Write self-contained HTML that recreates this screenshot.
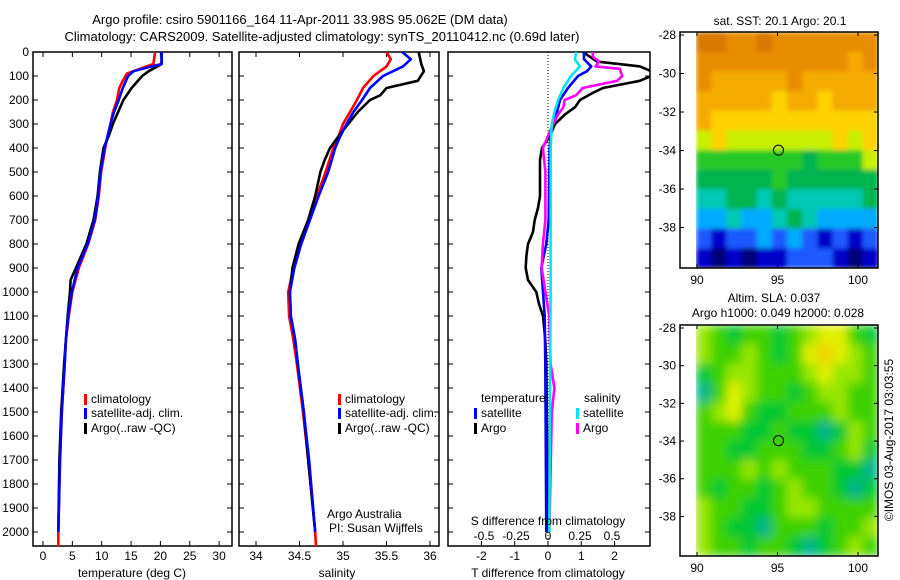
<!DOCTYPE html>
<html><head><meta charset="utf-8"><style>
html,body{margin:0;padding:0;background:#fff;}
svg{display:block;font-family:"Liberation Sans",sans-serif;}
text{font-size:12px;fill:#000;}
</style></head><body>
<svg id="fig" width="900" height="580" viewBox="0 0 900 580" xmlns="http://www.w3.org/2000/svg">
<text x="300" y="24" text-anchor="middle" style="font-size:13px">Argo profile: csiro 5901166_164 11-Apr-2011 33.98S 95.062E (DM data)</text>
<text x="322" y="41" text-anchor="middle" style="font-size:13px">Climatology: CARS2009. Satellite-adjusted climatology: synTS_20110412.nc (0.69d later)</text>
<g id="g"></g>
</svg>
<script>
// ---------- data ----------
const depthTicks = [0,100,200,300,400,500,600,700,800,900,1000,1100,1200,1300,1400,1500,1600,1700,1800,1900,2000];
const tempTicks = [0,5,10,15,20,25,30];
const salTicks = [34,34.5,35,35.5,36];
const salTickLabels = ["34","34.5","35","35.5","36"];
const tdTicks = [-2,-1,0,1,2];
const sdTicks = [-0.5,-0.25,0,0.25,0.5];
const sdTickLabels = ["-0.5","-0.25","0","0.25","0.5"];

const tClimDepth = [0,50,70,90,120,150,200,250,300,350,400,500,600,700,800,900,1000,1100,1200,1300,1500,1700,2000,2060];
const tClim = [19.1,18.8,16.5,14.3,13.6,13.0,12.6,11.9,11.5,11.0,10.6,9.9,9.5,8.9,7.7,6.1,5.0,4.4,3.9,3.7,3.2,2.9,2.6,2.6];
const tSatDepth = [0,50,65,80,100,150,200,250,300,350,400,500,600,700,800,900,1000,1100,1200,1300,1500,1700,2000];
const tSat = [20.2,20.2,17.7,15.4,14.5,13.6,12.9,12.1,11.5,11.0,10.5,9.8,9.4,8.8,7.6,5.9,4.9,4.3,3.9,3.7,3.2,2.9,2.6];
const tArgoDepth = [0,50,60,80,100,150,200,250,300,350,400,500,600,700,800,900,950,1000,1100,1200,1300,1500,1700,2000];
const tArgo = [20.2,20.2,19.5,18.0,16.9,15.1,13.7,12.8,11.9,11.2,10.3,9.7,9.3,8.6,7.4,5.6,4.7,4.6,4.2,3.9,3.6,3.1,2.8,2.6];

const sClimDepth = [0,30,60,100,150,200,250,300,350,400,500,600,700,800,900,1000,1100,1200,1300,1500,1700,2000,2060];
const sClim = [35.5,35.55,35.5,35.35,35.23,35.16,35.08,35.0,34.95,34.89,34.8,34.7,34.6,34.5,34.43,34.37,34.38,34.43,34.47,34.54,34.6,34.68,34.69];
const sSatDepth = [0,30,60,100,150,200,250,300,350,400,500,600,700,800,900,1000,1100,1200,1300,1500,1700,2000];
const sSat = [35.68,35.78,35.69,35.46,35.31,35.22,35.12,35.04,34.97,34.91,34.83,34.72,34.62,34.52,34.44,34.39,34.4,34.45,34.48,34.55,34.61,34.68];
const sArgoDepth = [0,50,80,120,150,180,200,250,300,350,400,450,500,600,700,800,900,1000,1100,1200,1300,1500,1700,2000];
const sArgo = [35.87,35.9,35.93,35.86,35.5,35.43,35.31,35.17,35.06,34.95,34.85,34.79,34.74,34.68,34.6,34.49,34.42,34.39,34.4,34.45,34.48,34.55,34.6,34.68];

const dTDepth = [0,40,60,80,100,120,150,170,200,230,260,300,350,400,450,500,600,650,700,750,800,850,900,950,1000,1050,1100,1200,1300,1600,2000];
const dTArgo = [1.05,1.47,2.76,3.1,3.1,2.76,1.65,1.35,0.96,0.81,0.51,0.21,0.06,-0.18,-0.24,-0.24,-0.24,-0.3,-0.4,-0.45,-0.6,-0.65,-0.67,-0.6,-0.35,-0.27,-0.15,-0.08,-0.05,-0.03,-0.02];
const dTSatDepth = [0,30,60,80,100,150,200,250,300,350,400,700,800,900,1000,1100,1300,2000];
const dTSat = [1.08,1.08,1.3,1.17,0.9,0.6,0.36,0.27,0.15,0.08,0.05,0.02,-0.05,-0.2,-0.15,-0.1,-0.08,-0.05];
const dSDepth = [0,20,40,60,70,100,120,150,180,200,230,260,300,350,400,500,700,800,900,1000,1100,1300,1400,1500,2000];
const dSArgo = [0.35,0.35,0.4,0.37,0.56,0.58,0.54,0.27,0.22,0.13,0.12,0.08,0.04,0,-0.04,-0.02,-0.02,-0.04,-0.05,-0.02,0.01,0.02,0.05,0.03,0.01];
const dSSatDepth = [0,30,60,100,150,200,250,300,400,600,1000,2000];
const dSSat = [0.22,0.21,0.25,0.18,0.12,0.08,0.05,0.03,0.02,0.02,0.02,0.01];

const sstGrid = [
[11,11,10,10,11,10,10,10,10,10,10,10],
[10,10,10,10,10,10,10,10,10,10,9,10],
[10,9,9,9,9,9,10,9,9,9,9,9],
[9,9,9,9,9,8,9,9,8,9,9,9],
[9,8,8,8,8,8,8,8,8,8,8,8],
[7,8,7,7,7,7,7,7,7,8,7,8],
[6,6,6,6,6,6,6,5,6,6,6,7],
[5,5,5,5,5,6,5,5,5,5,5,5],
[4,4,5,5,4,5,4,4,4,4,4,5],
[3,3,4,3,3,4,5,4,3,3,3,3],
[2,1,2,2,3,2,3,2,1,2,1,2],
[1,0,1,0,1,1,2,2,2,1,0,1]];
const slaGrid = [
[3,2,1,2,2,1,2,3,4,4,2,1],
[3,2,2,3,2,1,2,4,5,4,3,2],
[1,2,3,3,2,2,2,3,4,3,3,2],
[0,2,4,3,2,2,1,2,3,3,2,2],
[2,3,4,2,1,1,2,2,2,3,2,2],
[2,2,2,1,1,2,1,1,0,1,3,2],
[2,2,1,1,2,2,2,1,1,2,3,1],
[2,2,2,3,2,3,2,2,2,1,1,0],
[2,1,2,2,1,2,3,2,2,1,0,1],
[3,2,2,1,1,2,3,3,2,2,2,2],
[3,2,1,1,0,2,2,2,1,2,2,3],
[3,2,2,1,2,2,1,0,1,2,3,2]];
const latTicks = [-28,-30,-32,-34,-36,-38];
const lonTicks = [90,95,100];
const argoLon = 95.062, argoLat = -33.98;

// ---------- helpers ----------
const NS="http://www.w3.org/2000/svg";
const G=document.getElementById('g');
function el(tag,attrs,parent,txt){const e=document.createElementNS(NS,tag);for(const k in attrs)e.setAttribute(k,attrs[k]);if(txt!==undefined)e.textContent=txt;(parent||G).appendChild(e);return e;}
const yD = d => 52 + d*0.24;
const Y_TOP=52, Y_BOT=546;
const xT = t => 43 + t*5.87;
const xS = s => 256 + (s-34)*87;
const xDT = t => 548 + t*33.3;
const xDS = s => 548 + s*128;

function frame(x0,x1,name){
  const r=el('rect',{x:x0,y:Y_TOP,width:x1-x0,height:Y_BOT-Y_TOP,fill:'none',stroke:'#000','stroke-width':1.5});
  
  
  depthTicks.forEach(d=>{
    el('line',{x1:x0,x2:x0+5,y1:yD(d),y2:yD(d),stroke:'#000'});
    el('line',{x1:x1,x2:x1-5,y1:yD(d),y2:yD(d),stroke:'#000'});
  });
}
function clipFor(id,x0,x1){const cp=el('clipPath',{id:id});el('rect',{x:x0,y:Y_TOP,width:x1-x0,height:Y_BOT-Y_TOP},cp);}
function line(xs,ds,fx,color,w,name,clip){
  const pts=xs.map((v,i)=>fx(v).toFixed(1)+','+yD(ds[i]).toFixed(1)).join(' ');
  const p=el('polyline',{points:pts,fill:'none',stroke:color,'stroke-width':w,'stroke-linejoin':'round','clip-path':'url(#'+clip+')'});
  
  
}
function xticks(vals,labels,fx,x0,x1,ly,name){
  vals.forEach((v,i)=>{
    const x=fx(v);
    el('line',{x1:x,x2:x,y1:Y_BOT,y2:Y_BOT-5,stroke:'#000'});
    el('line',{x1:x,x2:x,y1:Y_TOP,y2:Y_TOP+5,stroke:'#000'});
    const t=el('text',{x:x,y:ly,'text-anchor':'middle'},null,labels[i]);
    
    
  });
}
function legendEntry(x,y,color,label,name){
  el('rect',{x:x,y:y-9,width:3,height:11,fill:color});
  const t=el('text',{x:x+7,y:y},null,label);
  
  
}

// ---------- panel 1: temperature ----------
clipFor('c1',33,232);
frame(33,232,'temperature-panel');
depthTicks.forEach(d=>{const t=el('text',{x:29,y:yD(d)+4,'text-anchor':'end'},null,String(d));
  
  });
xticks(tempTicks,tempTicks.map(String),xT,33,232,560,'temperature');
line(tClim,tClimDepth,xT,'#ff0000',2.6,'temp-climatology-line','c1');
line(tArgo,tArgoDepth,xT,'#000000',2.6,'temp-argo-line','c1');
line(tSat,tSatDepth,xT,'#0000ff',2.6,'temp-satellite-line','c1');
{const t=el('text',{x:132,y:577,'text-anchor':'middle'},null,'temperature (deg C)');}
legendEntry(84,403,'#ff0000','climatology','legend-entry-climatology');
legendEntry(84,417,'#0000ff','satellite-adj. clim.','legend-entry-satellite');
legendEntry(84,432,'#000000','Argo(..raw -QC)','legend-entry-argo');

// ---------- panel 2: salinity ----------
clipFor('c2',239,439);
frame(239,439,'salinity-panel');
xticks(salTicks,salTickLabels,xS,239,439,560,'salinity');
line(sClim,sClimDepth,xS,'#ff0000',2.6,'sal-climatology-line','c2');
line(sArgo,sArgoDepth,xS,'#000000',2.6,'sal-argo-line','c2');
line(sSat,sSatDepth,xS,'#0000ff',2.6,'sal-satellite-line','c2');
{const t=el('text',{x:337,y:577,'text-anchor':'middle'},null,'salinity');}
legendEntry(338,403,'#ff0000','climatology','legend2-entry-climatology');
legendEntry(338,417,'#0000ff','satellite-adj. clim.','legend2-entry-satellite');
legendEntry(338,432,'#000000','Argo(..raw -QC)','legend2-entry-argo');
{const t=el('text',{x:327,y:518},null,'Argo Australia');}
{const t=el('text',{x:329,y:532},null,'PI: Susan Wijffels');}

// ---------- panel 3: differences ----------
clipFor('c3',448,650);
frame(448,650,'difference-panel');
el('line',{x1:xDT(0),x2:xDT(0),y1:Y_TOP,y2:Y_BOT,stroke:'#000','stroke-dasharray':'1,2'});
tdTicks.forEach(v=>{const x=xDT(v);el('line',{x1:x,x2:x,y1:Y_BOT,y2:Y_BOT-5,stroke:'#000'});
  const t=el('text',{x:x,y:560,'text-anchor':'middle'},null,String(v));});
sdTicks.forEach((v,i)=>{const t=el('text',{x:xDS(v),y:540,'text-anchor':'middle'},null,sdTickLabels[i]);});
line(dTArgo,dTDepth,xDT,'#000000',2.6,'t-diff-argo-line','c3');
line(dTSat,dTSatDepth,xDT,'#0000ff',2.6,'t-diff-satellite-line','c3');
line(dSArgo,dSDepth,xDS,'#ff00ff',2.6,'s-diff-argo-line','c3');
line(dSSat,dSSatDepth,xDS,'#00e5ee',2.6,'s-diff-satellite-line','c3');
{const t=el('text',{x:548,y:525,'text-anchor':'middle'},null,'S difference from climatology');}
{const t=el('text',{x:548,y:577,'text-anchor':'middle'},null,'T difference from climatology');}
{const t=el('text',{x:481,y:402},null,'temperature');}
{const t=el('text',{x:584,y:402},null,'salinity');}
legendEntry(474,417,'#0000ff','satellite','legend3-temp-satellite');
legendEntry(474,432,'#000000','Argo','legend3-temp-argo');
legendEntry(576,417,'#00e5ee','satellite','legend3-sal-satellite');
legendEntry(576,432,'#ff00ff','Argo','legend3-sal-argo');

// ---------- maps ----------
const sstColors=['#00007a','#0000c8','#1e5aff','#00aaff','#00c8b4','#00b450','#28c828','#c8f000','#ffd200','#f5aa00','#e88c00','#d87800'];
const slaColors=['#00b48c','#00c832','#3cd200','#96e600','#e0f000','#f0d200'];
function map(top,bot,grid,colors,name,blur){
  const L=680,R=878,DL=696;
  const lonX=lon=>697+(lon-90)*16.1;
  const latY=lat=>top+3+(-28-lat)*((bot-top-3)/12.1);
  const cid='m'+name;
  const cp=el('clipPath',{id:cid});el('rect',{x:DL,y:top,width:R-DL,height:bot-top},cp);
  const g=el('g',{'clip-path':'url(#'+cid+')'});
  const gi=el('g',{filter:'url(#'+blur+')'},g);
  const rows=grid.length, cols=grid[0].length;
  const cw=(R-DL)/cols, ch=(bot-top)/rows;
  grid.forEach((row,r)=>row.forEach((v,c)=>{
    const cell=el('rect',{x:(DL+c*cw).toFixed(1),y:(top+r*ch).toFixed(1),width:(cw+0.6).toFixed(1),height:(ch+0.6).toFixed(1),fill:colors[v]},gi);
    
    
  }));
  const fr=el('rect',{x:L,y:top,width:R-L,height:bot-top,fill:'none',stroke:'#000','stroke-width':1.5});
  
  
  latTicks.forEach(l=>{const y=latY(l);el('line',{x1:L,x2:L+4,y1:y,y2:y,stroke:'#000'});el('line',{x1:R,x2:R-4,y1:y,y2:y,stroke:'#000'});
    const t=el('text',{x:L-4,y:y+4,'text-anchor':'end'},null,String(l));});
  lonTicks.forEach(l=>{const x=lonX(l);el('line',{x1:x,x2:x,y1:bot,y2:bot-4,stroke:'#000'});el('line',{x1:x,x2:x,y1:top,y2:top+4,stroke:'#000'});
    const t=el('text',{x:x,y:bot+16,'text-anchor':'middle'},null,String(l));});
  const c=el('ellipse',{cx:lonX(argoLon),cy:latY(argoLat),rx:5,ry:5,fill:'none',stroke:'#000','stroke-width':1});
  
  
}
const defs=el('defs',{});
const f=el('filter',{id:'bl',x:'-5%',y:'-5%',width:'110%',height:'110%'},defs);el('feGaussianBlur',{stdDeviation:5},f);
const f2=el('filter',{id:'bl2',x:'-5%',y:'-5%',width:'110%',height:'110%'},defs);el('feGaussianBlur',{stdDeviation:2.5},f2);
map(32,268,sstGrid,sstColors,'sst-map','bl2');
map(325,556,slaGrid,slaColors,'sla-map','bl');
{const t=el('text',{x:780,y:25,'text-anchor':'middle'},null,'sat. SST: 20.1 Argo: 20.1');}
{const t=el('text',{x:774,y:302,'text-anchor':'middle'},null,'Altim. SLA: 0.037');}
{const t=el('text',{x:778,y:317,'text-anchor':'middle'},null,'Argo h1000: 0.049 h2000: 0.028');}
{const t=el('text',{x:0,y:0,'text-anchor':'middle',transform:'translate(893,440) rotate(-90)'},null,'©IMOS 03-Aug-2017 03:03:55');}
</script>
</body></html>
